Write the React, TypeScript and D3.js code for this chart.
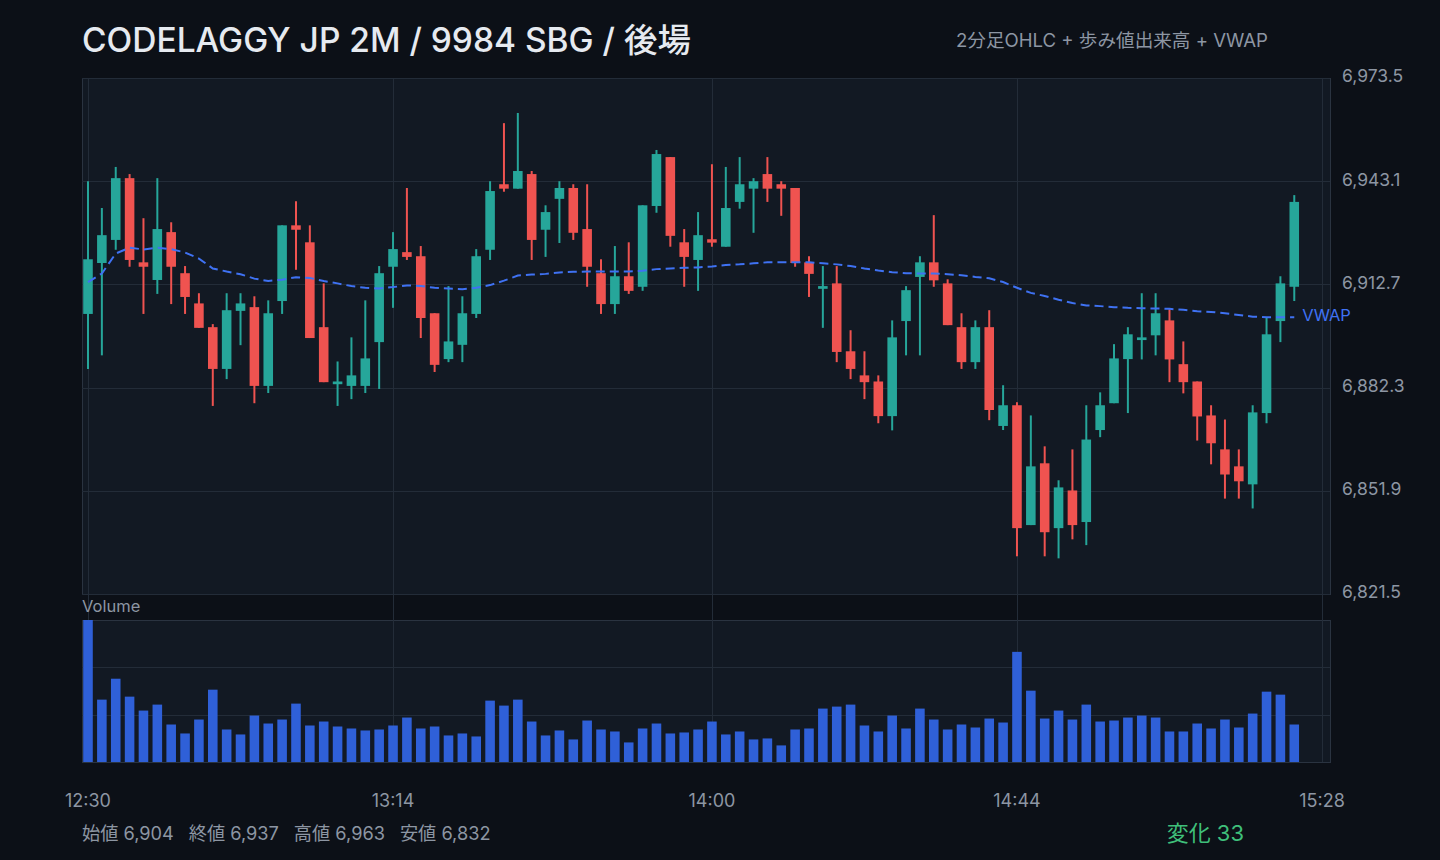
import { useEffect, useRef } from 'react';
import * as d3 from 'd3';

// 2-minute bars, 12:30 -> 15:24 (afternoon session)
const opens = [
  6904.0, 6919.0, 6925.8, 6944.0, 6919.2, 6914.0, 6928.1, 6916.0, 6907.1, 6900.1,
  6887.8, 6904.9, 6906.0, 6882.8, 6907.8, 6930.1, 6925.1, 6900.1, 6883.3, 6882.8,
  6882.8, 6895.7, 6917.9, 6922.2, 6921.0, 6904.2, 6890.7, 6894.9, 6904.0, 6922.9,
  6942.2, 6940.9, 6945.2, 6928.8, 6937.9, 6941.1, 6929.0, 6916.0, 6906.9, 6915.1,
  6912.0, 6935.8, 6950.2, 6925.1, 6919.9, 6926.0, 6923.8, 6937.0, 6940.9, 6945.2,
  6942.2, 6941.1, 6919.2, 6911.4, 6913.0, 6893.0, 6885.9, 6884.1, 6873.9, 6901.9,
  6914.9, 6919.2, 6913.0, 6900.1, 6889.8, 6900.1, 6871.0, 6877.1, 6841.8, 6860.0,
  6840.9, 6852.0, 6842.7, 6869.8, 6877.7, 6890.7, 6896.3, 6897.7, 6902.1, 6889.2,
  6884.1, 6874.1, 6864.1, 6859.1, 6853.8, 6874.8, 6901.9, 6912.0,
];
const highs = [
  6943.1, 6935.2, 6947.3, 6945.2, 6932.2, 6944.0, 6931.0, 6918.1, 6910.1, 6901.0,
  6910.1, 6910.1, 6909.2, 6908.0, 6930.1, 6937.2, 6930.1, 6913.0, 6890.0, 6897.1,
  6908.0, 6918.1, 6928.1, 6941.1, 6924.0, 6904.2, 6912.2, 6909.2, 6923.1, 6943.1,
  6960.2, 6963.2, 6946.1, 6936.0, 6943.1, 6942.2, 6942.2, 6920.1, 6924.0, 6925.1,
  6936.0, 6952.3, 6950.2, 6929.0, 6934.0, 6948.1, 6947.3, 6950.2, 6944.0, 6950.2,
  6943.1, 6941.1, 6921.0, 6918.1, 6918.1, 6899.2, 6893.0, 6885.9, 6902.1, 6912.2,
  6921.0, 6933.1, 6914.2, 6904.2, 6902.1, 6905.1, 6883.0, 6878.0, 6874.1, 6865.0,
  6855.0, 6864.1, 6877.1, 6880.9, 6895.1, 6900.1, 6910.1, 6910.1, 6905.4, 6895.9,
  6884.1, 6877.1, 6872.9, 6864.1, 6877.1, 6903.0, 6915.1, 6939.0,
];
const lows = [
  6887.8, 6891.8, 6922.9, 6917.9, 6904.0, 6909.9, 6906.9, 6904.0, 6899.9, 6876.9,
  6884.8, 6894.8, 6877.7, 6880.7, 6904.0, 6917.0, 6896.9, 6883.9, 6876.9, 6878.9,
  6880.7, 6881.9, 6905.8, 6919.9, 6896.9, 6886.9, 6889.8, 6889.8, 6902.8, 6919.9,
  6940.0, 6940.9, 6919.9, 6920.8, 6924.9, 6925.8, 6912.0, 6904.0, 6904.0, 6909.9,
  6910.8, 6933.8, 6923.8, 6912.0, 6910.8, 6923.8, 6923.8, 6935.0, 6927.9, 6937.0,
  6932.9, 6917.9, 6909.0, 6899.9, 6889.8, 6884.8, 6878.9, 6871.8, 6869.7, 6891.8,
  6891.8, 6912.0, 6900.7, 6887.8, 6887.8, 6872.7, 6869.8, 6832.6, 6841.8, 6832.6,
  6832.0, 6837.6, 6835.9, 6867.7, 6877.7, 6874.8, 6890.6, 6891.8, 6883.9, 6880.6,
  6866.7, 6859.7, 6849.6, 6849.6, 6846.7, 6871.8, 6895.7, 6907.8,
];
const closes = [
  6920.1, 6927.2, 6944.0, 6919.9, 6917.9, 6929.0, 6917.9, 6909.0, 6899.9, 6887.8,
  6905.1, 6907.1, 6882.8, 6904.2, 6930.1, 6928.8, 6896.9, 6883.9, 6884.1, 6885.9,
  6890.9, 6916.0, 6923.1, 6920.8, 6902.8, 6889.0, 6895.9, 6904.2, 6921.0, 6940.2,
  6940.9, 6946.1, 6925.8, 6934.0, 6941.1, 6927.9, 6917.9, 6906.9, 6915.1, 6910.8,
  6936.0, 6951.1, 6927.0, 6920.8, 6927.2, 6925.0, 6935.2, 6942.2, 6943.1, 6940.9,
  6940.9, 6919.0, 6915.8, 6912.2, 6892.8, 6887.8, 6883.9, 6873.9, 6897.1, 6911.0,
  6919.2, 6913.9, 6900.7, 6889.8, 6900.1, 6875.7, 6877.1, 6840.9, 6859.1, 6839.7,
  6852.9, 6841.8, 6867.0, 6877.1, 6890.9, 6898.0, 6897.1, 6904.2, 6890.6, 6883.9,
  6873.8, 6865.9, 6856.7, 6854.7, 6875.0, 6898.0, 6913.0, 6937.0,
];
const volumes = [
  42800, 18800, 25100, 19700, 15500, 17300, 11300, 8600, 12800, 21800,
  9800, 8300, 14000, 11600, 12800, 17600, 11000, 12200, 10700, 10100,
  9500, 9800, 11000, 13400, 10100, 10700, 8000, 8600, 7700, 18500,
  17000, 18800, 12200, 8000, 9500, 6800, 12500, 9800, 9200, 5900,
  10100, 11600, 8600, 8900, 9800, 12200, 8300, 9200, 6800, 7100,
  5000, 9800, 10100, 16100, 16700, 17300, 11000, 9200, 14000, 10100,
  16100, 12800, 9800, 11300, 10400, 13100, 11900, 33200, 21500, 13100,
  15500, 12800, 17300, 12200, 12500, 13400, 14000, 13400, 9200, 9200,
  11600, 10100, 12800, 10400, 14600, 21200, 20300, 11300,
];
const vwap = [
  6913.4, 6915.9, 6921.8, 6923.5, 6923.0, 6923.5, 6923.1, 6922.1, 6920.3, 6917.4,
  6916.5, 6915.7, 6914.4, 6913.7, 6914.1, 6914.8, 6914.6, 6913.7, 6913.0, 6912.2,
  6911.7, 6911.5, 6911.9, 6912.4, 6912.2, 6911.7, 6911.5, 6911.3, 6911.7, 6912.5,
  6913.8, 6915.3, 6915.6, 6915.8, 6916.2, 6916.4, 6916.5, 6916.5, 6916.5, 6916.5,
  6916.7, 6917.2, 6917.4, 6917.6, 6917.7, 6918.0, 6918.4, 6918.6, 6918.9, 6919.2,
  6919.2, 6919.2, 6919.2, 6918.9, 6918.6, 6918.1, 6917.4, 6916.8, 6916.3, 6916.0,
  6915.9, 6915.9, 6915.7, 6915.4, 6914.9, 6914.5, 6913.4, 6911.7, 6910.2, 6909.3,
  6908.2, 6907.2, 6906.5, 6906.3, 6906.0, 6905.8, 6905.7, 6905.6, 6905.5, 6905.2,
  6904.8, 6904.6, 6904.2, 6903.7, 6903.2, 6903.0, 6903.0, 6903.0,
];

const priceTicks = [6821.5, 6851.9, 6882.3, 6912.7, 6943.1, 6973.5];
const timeTicks = ["12:30", "13:14", "14:00", "14:44", "15:28"];

export default function App() {
  const svgRef = useRef<SVGSVGElement>(null);

  useEffect(() => {
    if (!svgRef.current) return;
    const svg = d3.select(svgRef.current);
    svg.selectAll("*").remove();

    const width = 1440;
    const height = 860;
    const font = "Inter, 'Noto Sans CJK JP', sans-serif";
    const panel = { left: 82, right: 1330, top: 78, bottom: 594 };
    const volPanel = { top: 620, bottom: 762 };

    const bg = "#0c1017";
    const plotBg = "#121923";
    const grid = "#232c38";
    const border = "#2a3340";
    const label = "#8d96a3";
    const up = "#26a69a";
    const down = "#ef5350";

    const parse = d3.timeParse("%H:%M");
    const t0 = parse(timeTicks[0]) as Date;
    const times = opens.map((_, i) => d3.timeMinute.offset(t0, i * 2));

    const x = d3.scaleTime()
      .domain([t0, parse(timeTicks[timeTicks.length - 1]) as Date])
      .range([88, 1322]);
    const y = d3.scaleLinear()
      .domain([priceTicks[0], priceTicks[priceTicks.length - 1]])
      .range([panel.bottom, panel.top]);
    const vmax = d3.max(volumes) as number;
    const yv = d3.scaleLinear().domain([0, vmax]).range([volPanel.bottom, volPanel.top]);

    const step = x(times[1]) - x(times[0]);
    const bodyW = step * 0.69;

    svg.append("rect").attr("width", width).attr("height", height).attr("fill", bg);

    // panels
    svg.append("rect")
      .attr("x", panel.left + 0.5).attr("y", panel.top + 0.5)
      .attr("width", panel.right - panel.left).attr("height", panel.bottom - panel.top)
      .attr("fill", plotBg).attr("stroke", border);
    svg.append("rect")
      .attr("x", panel.left + 0.5).attr("y", volPanel.top + 0.5)
      .attr("width", panel.right - panel.left).attr("height", volPanel.bottom - volPanel.top)
      .attr("fill", plotBg).attr("stroke", border);

    // horizontal grid
    svg.append("g").selectAll("line")
      .data(priceTicks)
      .join("line")
      .attr("x1", panel.left).attr("x2", panel.right)
      .attr("y1", d => Math.round(y(d)) + 0.5).attr("y2", d => Math.round(y(d)) + 0.5)
      .attr("stroke", grid);
    svg.append("g").selectAll("line")
      .data([vmax / 3, (vmax * 2) / 3])
      .join("line")
      .attr("x1", panel.left).attr("x2", panel.right)
      .attr("y1", d => Math.round(yv(d)) + 0.5).attr("y2", d => Math.round(yv(d)) + 0.5)
      .attr("stroke", grid);

    // vertical grid (through both panels)
    const tickDates = timeTicks.map(t => parse(t) as Date);
    svg.append("g").selectAll("line")
      .data(tickDates)
      .join("line")
      .attr("x1", d => Math.round(x(d)) + 0.5).attr("x2", d => Math.round(x(d)) + 0.5)
      .attr("y1", panel.top).attr("y2", volPanel.bottom)
      .attr("stroke", grid);

    // y labels
    svg.append("g").selectAll("text")
      .data(priceTicks)
      .join("text")
      .attr("x", 1342).attr("y", d => y(d) + 4.4)
      .attr("font-family", font).attr("font-size", 17.5)
      .attr("fill", label)
      .text(d => d3.format(",.1f")(d));

    // x labels
    svg.append("g").selectAll("text")
      .data(tickDates)
      .join("text")
      .attr("x", d => x(d)).attr("y", 806.5)
      .attr("text-anchor", "middle")
      .attr("font-family", font).attr("font-size", 18)
      .attr("fill", label)
      .text(d => d3.timeFormat("%H:%M")(d));

    // candles
    const candles = svg.append("g").selectAll("g")
      .data(opens.map((o, i) => i))
      .join("g");
    candles.append("line")
      .attr("x1", i => x(times[i])).attr("x2", i => x(times[i]))
      .attr("y1", i => y(highs[i])).attr("y2", i => y(lows[i]))
      .attr("stroke", i => (closes[i] >= opens[i] ? up : down))
      .attr("stroke-width", 2);
    candles.append("rect")
      .attr("x", i => x(times[i]) - bodyW / 2)
      .attr("y", i => y(Math.max(opens[i], closes[i])))
      .attr("width", bodyW)
      .attr("height", i => Math.max(1.5, Math.abs(y(opens[i]) - y(closes[i]))))
      .attr("fill", i => (closes[i] >= opens[i] ? up : down));

    // VWAP
    const line = d3.line<number>()
      .x((_, i) => x(times[i]))
      .y(d => y(d));
    svg.append("path")
      .attr("d", line(vwap))
      .attr("fill", "none")
      .attr("stroke", "#3f72f3")
      .attr("stroke-width", 2)
      .attr("stroke-dasharray", "9 5");
    svg.append("text")
      .attr("x", x(times[times.length - 1]) + 8)
      .attr("y", y(vwap[vwap.length - 1]) + 4)
      .attr("font-family", font).attr("font-size", 16.5)
      .attr("fill", "#3f72f3")
      .text("VWAP");

    // volume
    svg.append("text")
      .attr("x", panel.left).attr("y", 612)
      .attr("font-family", font).attr("font-size", 16.5)
      .attr("fill", label)
      .text("Volume");
    svg.append("g").selectAll("rect")
      .data(volumes)
      .join("rect")
      .attr("x", (_, i) => x(times[i]) - bodyW / 2)
      .attr("y", d => yv(d))
      .attr("width", bodyW)
      .attr("height", d => yv(0) - yv(d))
      .attr("fill", "#2f60d8");

    // title
    svg.append("text")
      .attr("x", 82).attr("y", 52)
      .attr("font-family", font).attr("font-size", 33.5).attr("font-weight", 500)
      .attr("fill", "#e6eaf0")
      .text("CODELAGGY JP 2M / 9984 SBG / 後場");
    svg.append("text")
      .attr("x", 1268).attr("y", 47)
      .attr("text-anchor", "end")
      .attr("font-family", font).attr("font-size", 18.6)
      .attr("fill", label)
      .text("2分足OHLC + 歩み値出来高 + VWAP");

    // footer summary
    const fmt = d3.format(",.0f");
    const first = opens[0];
    const last = closes[closes.length - 1];
    const stats = [
      ["始値", first],
      ["終値", last],
      ["高値", d3.max(highs) as number],
      ["安値", d3.min(lows) as number],
    ];
    const footer = svg.append("text")
      .attr("y", 839.5)
      .attr("font-family", font).attr("font-size", 18.2)
      .attr("fill", label);
    stats.forEach(([k, v], i) => {
      footer.append("tspan")
        .attr("x", i === 0 ? 82 : null)
        .attr("dx", i === 0 ? 0 : 15)
        .text(`${k} ${fmt(v as number)}`);
    });
    const change = Math.round(last - first);
    svg.append("text")
      .attr("x", 1244).attr("y", 841)
      .attr("text-anchor", "end")
      .attr("font-family", font).attr("font-size", 22)
      .attr("fill", change >= 0 ? "#3fbf7a" : down)
      .text(`変化 ${change >= 0 ? "" : "-"}${Math.abs(change)}`);
  }, []);

  return (
    <svg
      ref={svgRef}
      width={1440}
      height={860}
      style={{ position: "absolute", left: 0, top: 0, display: "block" }}
    />
  );
}
